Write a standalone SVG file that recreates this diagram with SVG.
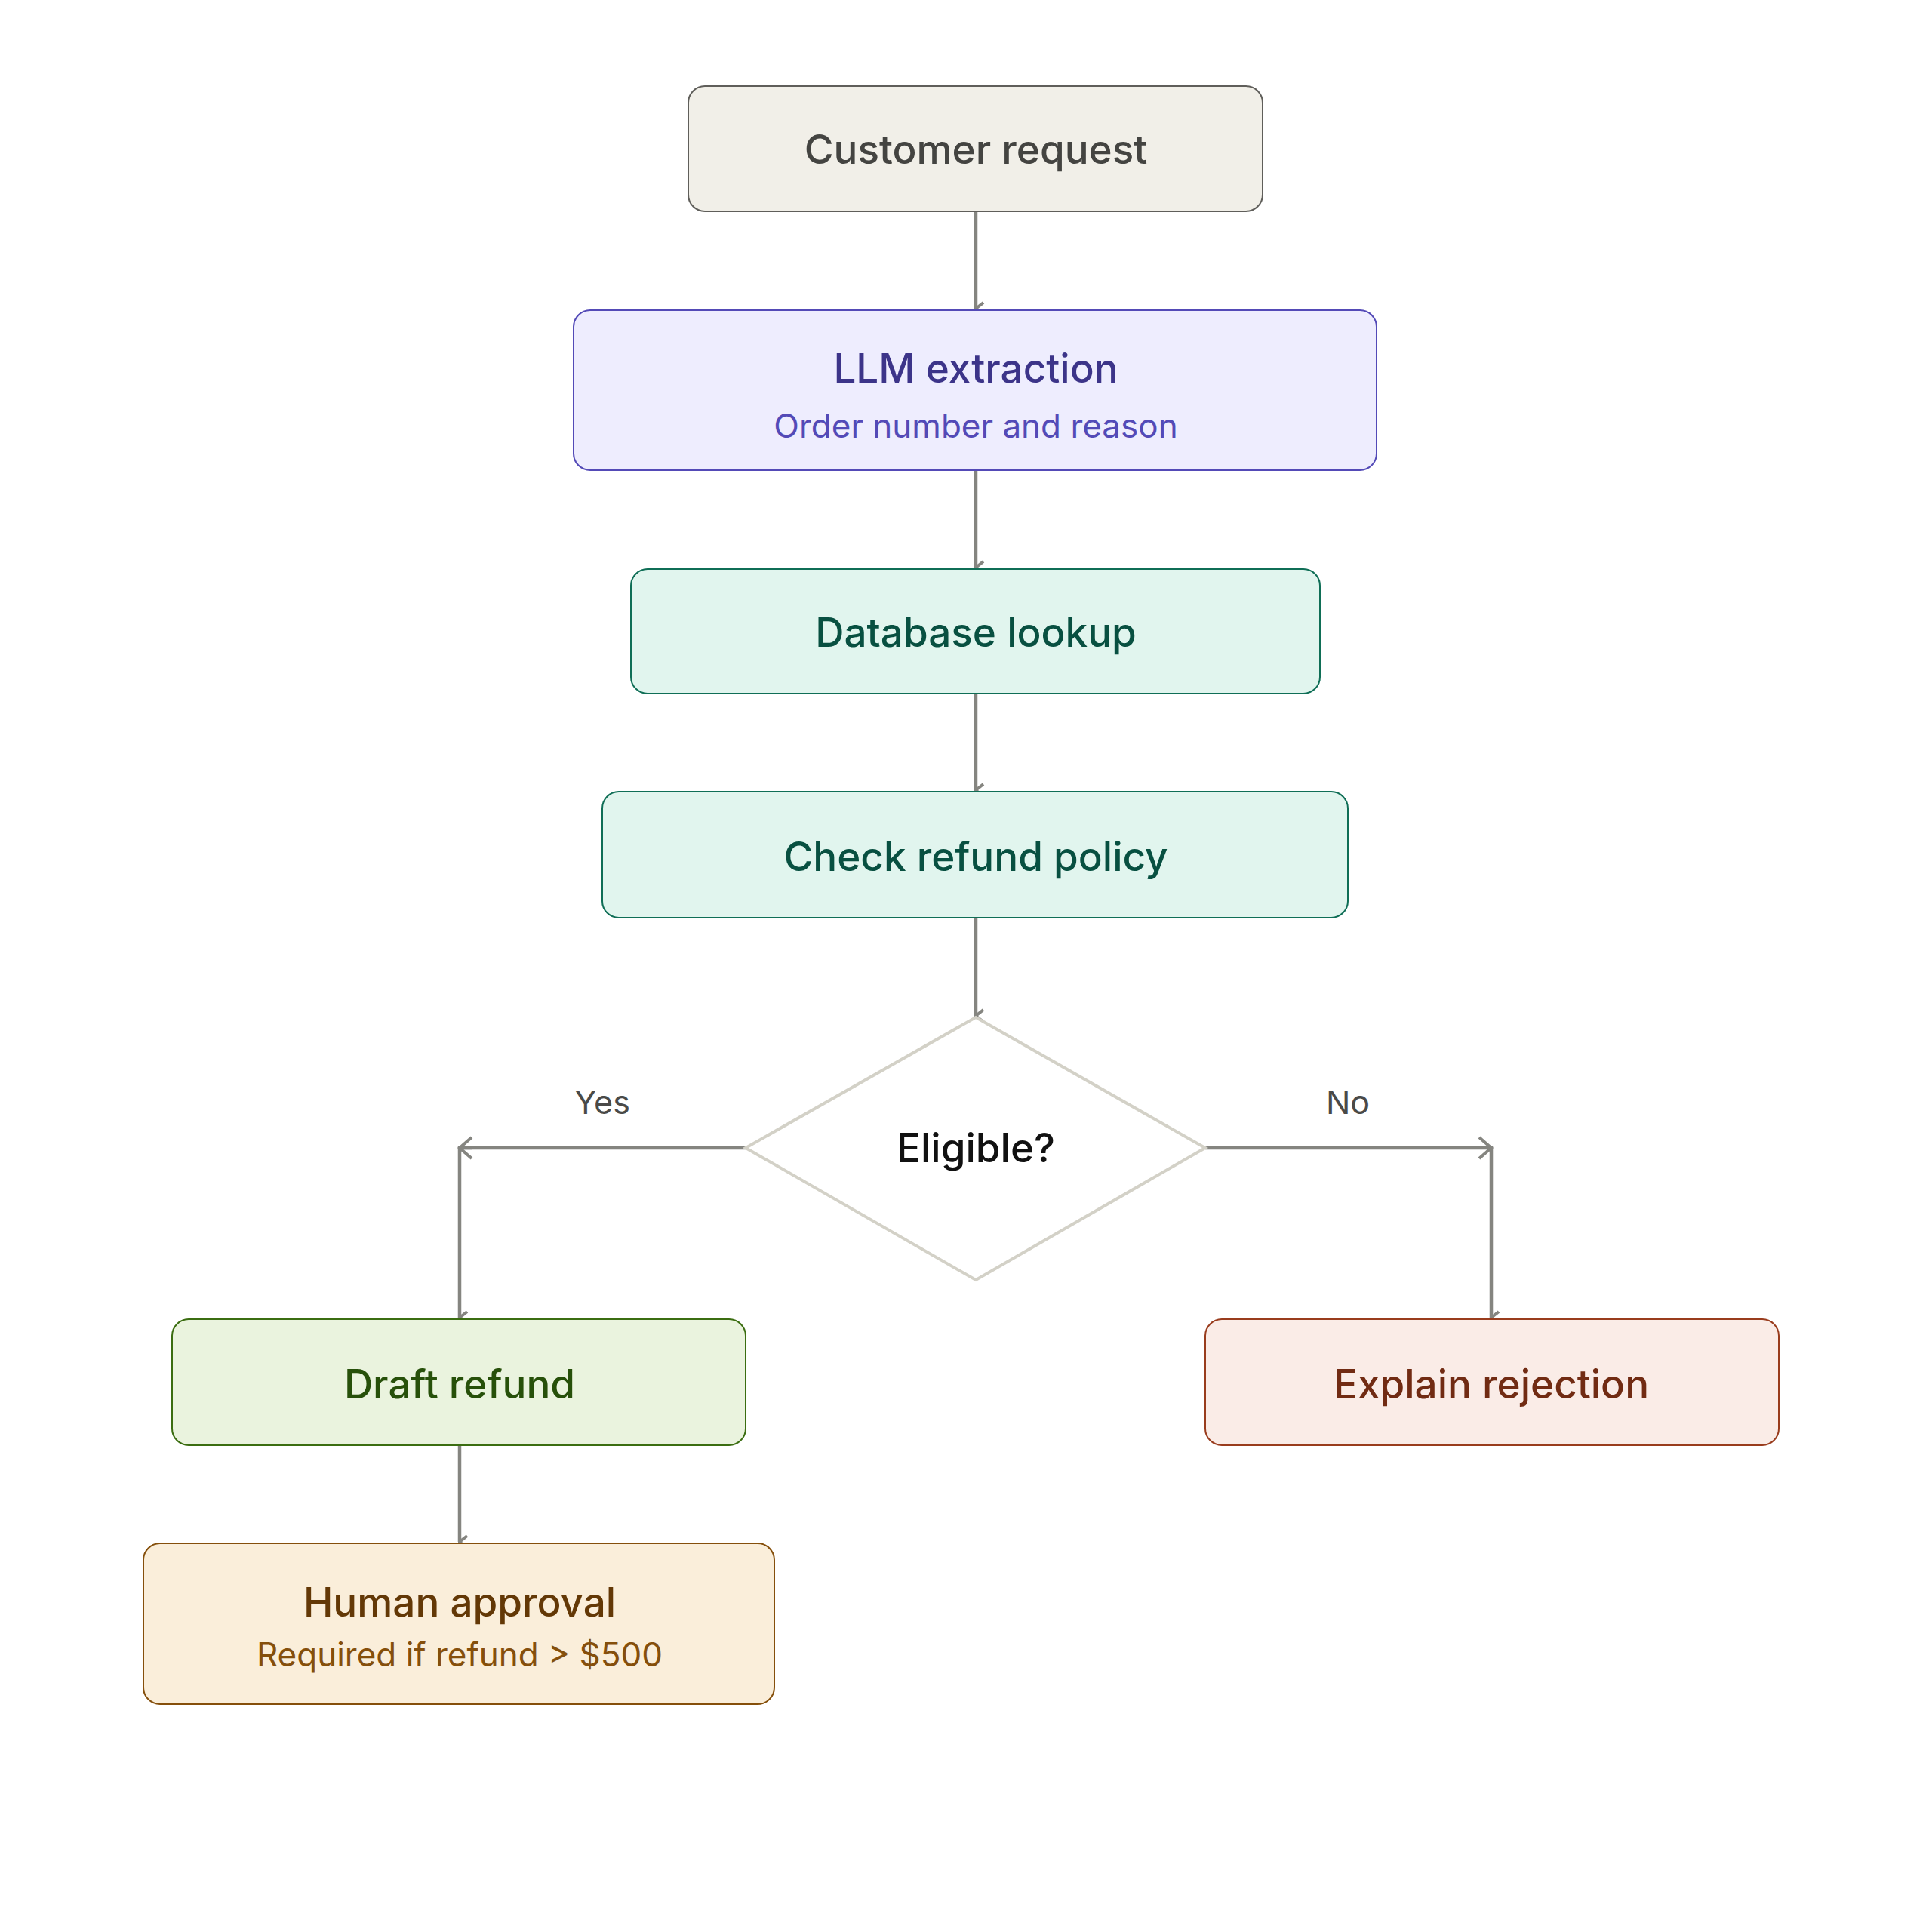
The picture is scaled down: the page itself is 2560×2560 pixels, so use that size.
<svg xmlns="http://www.w3.org/2000/svg" width="2560" height="2560" viewBox="0 0 2560 2560">
<style>
text{font-family:Inter,"Noto Sans","Liberation Sans",sans-serif;text-anchor:middle;dominant-baseline:central}
.t{font-size:53px;font-weight:500}
.s{font-size:44px}
.c{fill:none;stroke:#858580;stroke-width:4.5}
.b{stroke-width:2}
</style>
<defs><marker id="a" viewBox="0 0 20 20" refX="10" refY="18" markerWidth="20" markerHeight="20" markerUnits="userSpaceOnUse" orient="auto-start-reverse"><path d="M2 8 L10 18 L18 8" fill="none" stroke="#858580" stroke-width="4"/></marker>
<marker id="h" viewBox="0 0 20 20" refX="18" refY="10" markerWidth="20" markerHeight="20" markerUnits="userSpaceOnUse" orient="auto"><path d="M8 2 L18 10 L8 18" fill="none" stroke="#858580" stroke-width="4"/></marker></defs>
<rect width="2560" height="2560" fill="#fff"/>
<g id="connectors">
<path class="c" d="M1293 280V409" marker-end="url(#a)"/>
<path class="c" d="M1293 623V752" marker-end="url(#a)"/>
<path class="c" d="M1293 919V1047" marker-end="url(#a)"/>
<path class="c" d="M1293 1216V1346" marker-end="url(#a)"/>
<path class="c" d="M988 1521H609V1746" marker-end="url(#a)"/>
<path class="c" d="M609 1521H625" stroke="none"/>
<path d="M625 1507L609 1521L625 1535" fill="none" stroke="#858580" stroke-width="4"/>
<path class="c" d="M1597 1521H1976V1746" marker-end="url(#a)"/>
<path d="M1960 1507L1976 1521L1960 1535" fill="none" stroke="#858580" stroke-width="4"/>
<path class="c" d="M609 1915V2043" marker-end="url(#a)"/>
<text x="798" y="1460" font-size="43" fill="#4a4a48">Yes</text>
<text x="1786" y="1460" font-size="43" fill="#4a4a48">No</text>
</g>
<g id="customer"><rect class="b" x="912" y="114" width="761" height="166" rx="22" fill="#f1efe8" stroke="#5f5e5a"/><text class="t" x="1293" y="198" fill="#444441">Customer request</text></g>
<g id="llm"><rect class="b" x="760" y="411" width="1064" height="212" rx="22" fill="#eeedfe" stroke="#534ab7"/><text class="t" x="1293" y="488" fill="#3c3489">LLM extraction</text><text class="s" x="1293" y="564" fill="#534ab7">Order number and reason</text></g>
<g id="db"><rect class="b" x="836" y="754" width="913" height="165" rx="22" fill="#e1f5ee" stroke="#0f6e56"/><text class="t" x="1293" y="838" fill="#085041">Database lookup</text></g>
<g id="policy"><rect class="b" x="798" y="1049" width="988" height="167" rx="22" fill="#e1f5ee" stroke="#0f6e56"/><text class="t" x="1293" y="1135" fill="#085041">Check refund policy</text></g>
<g id="eligible"><path d="M1293 1348L1597 1521L1293 1696L988 1521Z" fill="#fff" stroke="#d3d1c7" stroke-width="4"/><text class="t" x="1293" y="1521" fill="#111">Eligible?</text></g>
<g id="draft"><rect class="b" x="228" y="1748" width="760" height="167" rx="22" fill="#eaf3de" stroke="#3b6d11"/><text class="t" x="609" y="1834" fill="#27500a">Draft refund</text></g>
<g id="reject"><rect class="b" x="1597" y="1748" width="760" height="167" rx="22" fill="#faece7" stroke="#993c1d"/><text class="t" x="1976" y="1834" fill="#712b13">Explain rejection</text></g>
<g id="human"><rect class="b" x="190" y="2045" width="836" height="213" rx="22" fill="#faeeda" stroke="#854f0b"/><text class="t" x="609" y="2123" fill="#633806">Human approval</text><text class="s" x="609" y="2192" fill="#854f0b">Required if refund &gt; $500</text></g>
</svg>
